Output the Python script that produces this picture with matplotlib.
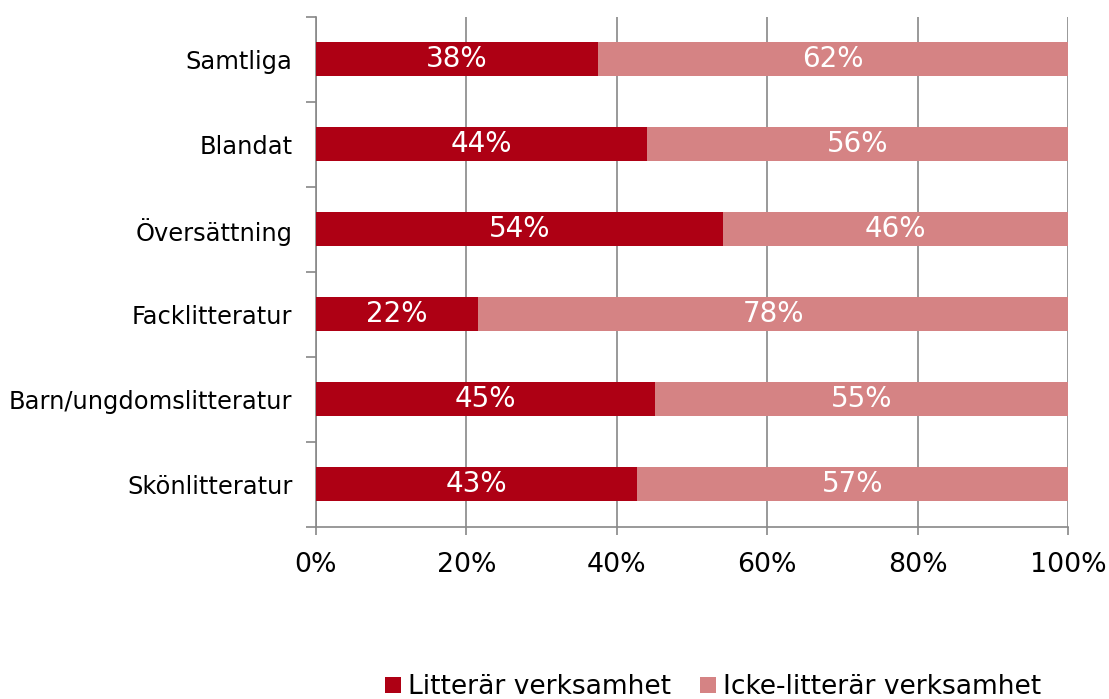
import matplotlib
matplotlib.use("Agg")
import matplotlib.pyplot as plt
import numpy as np

# data, top to bottom as in the picture
categories = ["Samtliga", "Blandat", "Översättning", "Facklitteratur",
              "Barn/ungdomslitteratur", "Skönlitteratur"]
litterar = [37.5, 44.0, 54.1, 21.6, 45.1, 42.7]
icke_litterar = [62.5, 56.0, 45.9, 78.4, 54.9, 57.3]
labels_lit = ["38%", "44%", "54%", "22%", "45%", "43%"]
labels_icke = ["62%", "56%", "46%", "78%", "55%", "57%"]
series_names = ["Litterär verksamhet", "Icke-litterär verksamhet"]

c_dark = "#AE0014"
c_light = "#D58384"
grid_c = "#888888"

plt.rcParams['font.family'] = ['DejaVu Sans']

fig = plt.figure(figsize=(11.09, 6.99), dpi=100)
ax = fig.add_axes([0.2849, 0.2461, 0.963 - 0.2849, 0.9757 - 0.2461])

y = np.arange(len(categories))[::-1]
b1 = ax.barh(y, litterar, height=0.4, color=c_dark, label=series_names[0], zorder=3)
b2 = ax.barh(y, icke_litterar, left=litterar, height=0.4, color=c_light,
             label=series_names[1], zorder=3)

for i in range(len(categories)):
    ax.text(litterar[i] / 2, y[i], labels_lit[i], color="white", fontsize=20,
            ha="center", va="center", zorder=4)
    ax.text(litterar[i] + icke_litterar[i] / 2, y[i], labels_icke[i], color="white",
            fontsize=20, ha="center", va="center", zorder=4)

ax.set_xlim(0, 100)
ax.set_ylim(-0.5, len(categories) - 0.5)
ax.set_xticks([0, 20, 40, 60, 80, 100])
ax.set_xticklabels(["0%", "20%", "40%", "60%", "80%", "100%"], fontsize=19.3)
ax.set_yticks(y)
ax.set_yticklabels(categories, fontsize=17.4)
ax.set_yticks(np.arange(-0.5, len(categories), 1.0), minor=True)

ax.tick_params(axis="y", which="major", length=0, pad=17)
ax.tick_params(axis="y", which="minor", length=7, color=grid_c, width=1.2)
ax.tick_params(axis="x", length=6, color=grid_c, width=1.2, pad=12)

ax.grid(axis="x", color=grid_c, linewidth=1.2, zorder=0)
for s in ["top", "right"]:
    ax.spines[s].set_visible(False)
for s in ["left", "bottom"]:
    ax.spines[s].set_color(grid_c)
    ax.spines[s].set_linewidth(1.2)

fig.legend(handles=[b1, b2], loc="lower center", bbox_to_anchor=(0.643, -0.036),
           ncol=2, frameon=False, fontsize=19.1, handlelength=0.6, handleheight=0.6,
           handletextpad=0.25, columnspacing=1.1)

fig.savefig("out.png", dpi=100)
